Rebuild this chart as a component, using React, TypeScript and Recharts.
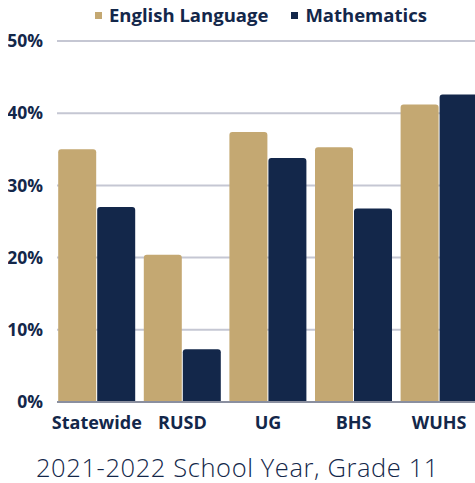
import React from "react";
import { BarChart, Bar, XAxis, YAxis, CartesianGrid, Legend } from "recharts";

const categories = ["Statewide", "RUSD", "UG", "BHS", "WUHS"];
const englishLanguage = [35.0, 20.4, 37.4, 35.3, 41.2];
const mathematics = [27.0, 7.3, 33.8, 26.8, 42.6];
const yTicks = [0, 10, 20, 30, 40, 50];
const title = "2021-2022 School Year, Grade 11";

const GOLD = "#c4a872";
const NAVY = "#13274a";
const FONT = "'Open Sans', 'Noto Sans', sans-serif";

const data = categories.map((c, i) => ({
  name: c,
  ela: englishLanguage[i],
  math: mathematics[i],
}));

const LegendContent = () => (
  <div
    style={{
      display: "flex",
      justifyContent: "flex-start",
      paddingLeft: 87,
      gap: 23,
      fontFamily: FONT,
      fontWeight: 700,
      fontSize: 18.5,
      color: NAVY,
      lineHeight: "14px",
    }}
  >
    {[
      { label: "English Language", color: GOLD },
      { label: "Mathematics", color: NAVY },
    ].map((it) => (
      <span key={it.label} style={{ display: "flex", alignItems: "center" }}>
        <span
          style={{
            display: "inline-block",
            width: 7,
            height: 7,
            background: it.color,
            marginRight: 7,
          }}
        />
        {it.label}
      </span>
    ))}
  </div>
);

export default function App() {
  return (
    <div
      style={{
        width: 475,
        height: 483,
        overflow: "hidden",
        position: "relative",
      }}
    >
      <style>{"html,body{margin:0;padding:0;overflow:hidden;}"}</style>
      <div style={{ position: "absolute", left: 8, top: 8 }}>
        <BarChart
          width={477}
          height={437}
          data={data}
          margin={{ top: 0, right: 3, left: 0, bottom: 0 }}
          barCategoryGap={4.2}
          barGap={1}
        >
          <Legend verticalAlign="top" height={33} content={<LegendContent />} />
          <CartesianGrid vertical={false} stroke="#c5c7d3" strokeWidth={2} />
          <XAxis
            dataKey="name"
            axisLine={{ stroke: "#8a8f9f", strokeWidth: 2 }}
            tickLine={false}
            interval={0}
            height={43}
            padding={{ left: -3, right: 0 }}
            tick={{ fill: NAVY, fontFamily: FONT, fontWeight: 700, fontSize: 18 }}
            tickMargin={8}
          />
          <YAxis
            width={49}
            domain={[0, 50]}
            ticks={yTicks}
            axisLine={false}
            tickLine={false}
            tickSize={0}
            tickMargin={14}
            tickFormatter={(v: number) => `${v}%`}
            tick={{ fill: NAVY, fontFamily: FONT, fontWeight: 700, fontSize: 17.5 }}
          />
          <Bar dataKey="ela" name="English Language" fill={GOLD} radius={[3, 3, 0, 0]} isAnimationActive={false} />
          <Bar dataKey="math" name="Mathematics" fill={NAVY} radius={[3, 3, 0, 0]} isAnimationActive={false} />
        </BarChart>
      </div>
      <div
        style={{
          position: "absolute",
          left: 0,
          top: 452,
          width: 475,
          textAlign: "center",
          fontFamily: FONT,
          fontWeight: 300,
          fontSize: 25.5,
          letterSpacing: 0.6,
          color: NAVY,
          lineHeight: "30px",
        }}
      >
        {title}
      </div>
    </div>
  );
}
